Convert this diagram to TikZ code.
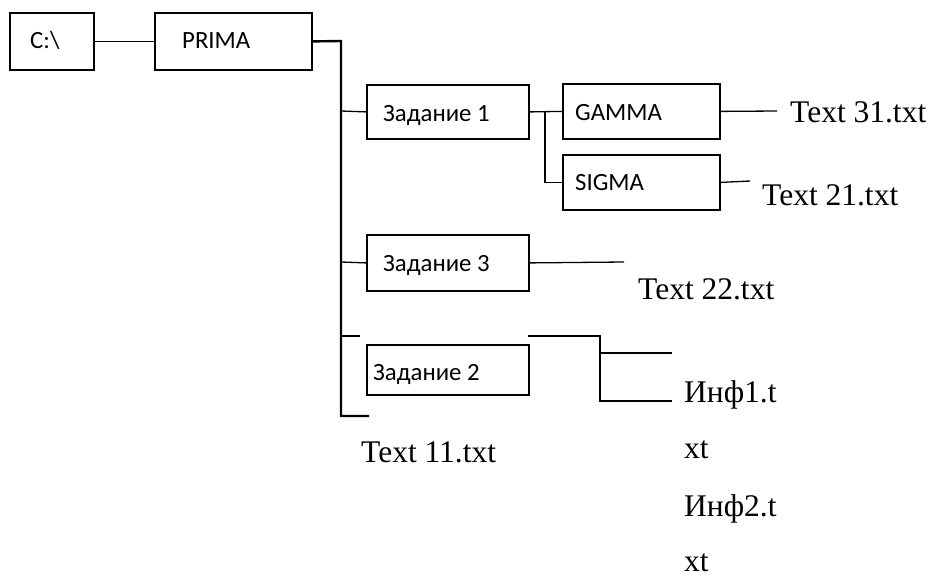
\documentclass[tikz,border=0pt]{standalone}
\usepackage{fontspec}
\setmainfont{Liberation Serif}
\newfontfamily\boxfont{Carlito}
\begin{document}
\begin{tikzpicture}[x=1pt,y=-1pt,
  box/.style={draw,line width=1.8pt,minimum width=#1,minimum height=55pt,anchor=north west,inner sep=0pt},
  boxtext/.style={anchor=base west,inner sep=0pt,font=\boxfont\fontsize{24.8}{28}\selectfont},
  filetext/.style={anchor=base west,inner sep=0pt,font=\fontsize{31.5}{36}\selectfont},
  conn/.style={line width=1.3pt},
  trunk/.style={line width=2.4pt}]
\useasboundingbox (0,0) rectangle (931,576);
% boxes
\node[box=84pt,minimum height=57pt] (c) at (9,12) {};
\node[box=157pt,minimum height=57pt] (prima) at (154,12) {};
\node[box=162pt,minimum height=54pt] (z1) at (366,84) {};
\node[box=157pt] (gamma) at (562,83) {};
\node[box=157pt] (sigma) at (562,154) {};
\node[box=162pt,minimum height=56pt] (z3) at (366,234) {};
\node[box=162pt,minimum height=50pt] (z2) at (366,344) {};
% box texts
\node[boxtext] (tc) at (30,48) {C:\textbackslash};
\node[boxtext] (tprima) at (182,48) {PRIMA};
\node[boxtext] (tz1) at (383,121) {Задание 1};
\node[boxtext] (tgamma) at (575,120) {GAMMA};
\node[boxtext] (tsigma) at (575,190) {SIGMA};
\node[boxtext] (tz3) at (383,271) {Задание 3};
\node[boxtext] (tz2) at (373,380) {Задание 2};
% file texts
\node[filetext] (f31) at (790,122) {Text 31.txt};
\node[filetext] (f21) at (762,205) {Text 21.txt};
\node[filetext] (f22) at (638,299) {Text 22.txt};
\node[filetext] (f11) at (361,462) {Text 11.txt};
\node[filetext] (i1a) at (684,402) {Инф1.t};
\node[filetext] (i1b) at (684,458) {xt};
\node[filetext] (i2a) at (684,516) {Инф2.t};
\node[filetext] (i2b) at (684,571) {xt};
% coordinates
\coordinate (t0) at (341,41);
\coordinate (t1) at (341,111);
\coordinate (t3) at (341,262);
\coordinate (t2) at (341,336);
\coordinate (t2e) at (360,336);
\coordinate (tb) at (341,416);
\coordinate (tbe) at (369,416);
\coordinate (g1) at (545,111);
\coordinate (ge) at (777,111);
\coordinate (se) at (750,181);
\coordinate (z3e) at (624,262);
\coordinate (z2a) at (528,336);
\coordinate (z2b) at (600,336);
\coordinate (z2c) at (600,353);
\coordinate (z2d) at (672,353);
\coordinate (z2f) at (672,401);
% connectors
\draw[conn] (c.east) -- (prima.west);
\draw[trunk] (prima.east) -- (t0) -- (tb) -- (tbe);
\draw[conn] (t1) -- (z1.west);
\draw[conn] (t3) -- (z3.west);
\draw[conn] (t2) -- (t2e);
\draw[conn] (z1.east) -- (gamma.west);
\draw[conn] (g1) |- (sigma.west);
\draw[conn] (gamma.east) -- (ge);
\draw[conn] (sigma.east) -- (se);
\draw[conn] (z3.east) -- (z3e);
\draw[conn] (z2a) -- (z2b) |- (z2f);
\draw[conn] (z2c) -- (z2d);
\end{tikzpicture}
\end{document}
